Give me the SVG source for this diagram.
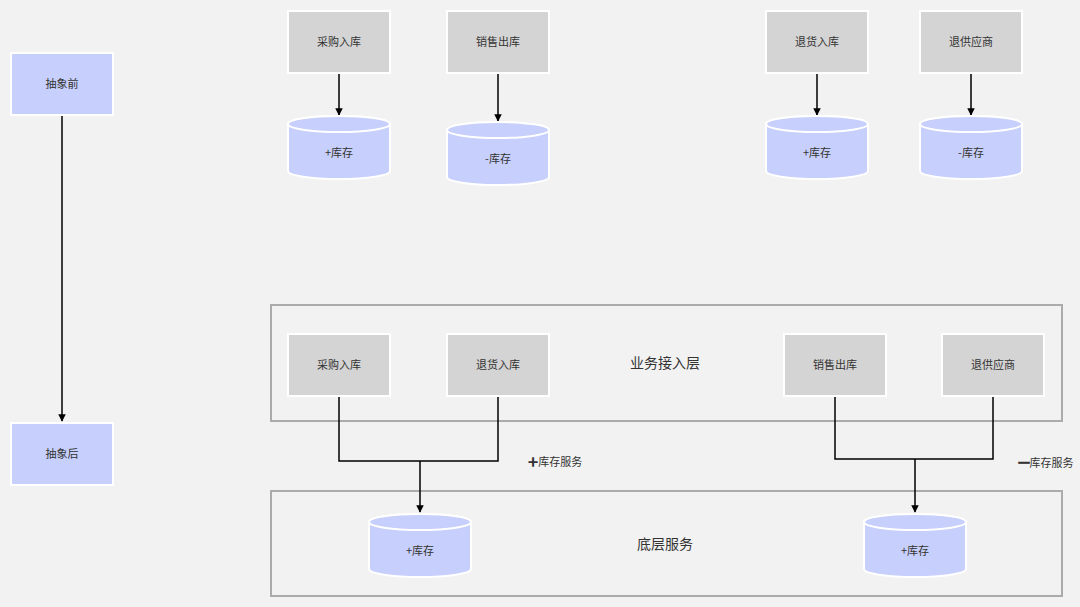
<svg xmlns="http://www.w3.org/2000/svg" width="1080" height="607" viewBox="0 0 1080 607">
<defs>
<marker id="ah" viewBox="0 0 10 10" refX="9" refY="5" markerWidth="5" markerHeight="5" orient="auto" markerUnits="strokeWidth"><path d="M0,0 L10,5 L0,10 z" fill="#000"/></marker>
<style>
.bg{fill:#f2f2f2}
.box{fill:#d4d4d4;stroke:#fff;stroke-width:2}
.blue{fill:#c7cffc;stroke:#fff;stroke-width:2}
.cont{fill:none;stroke:#ababab;stroke-width:2}
.t{font-family:"Noto Sans CJK SC","Liberation Sans",sans-serif;font-size:11px;fill:#333;text-anchor:middle;dominant-baseline:central}
.tl{font-family:"Noto Sans CJK SC","Liberation Sans",sans-serif;font-size:14px;fill:#333;text-anchor:middle;dominant-baseline:central}
.c{fill:none;stroke:#000;stroke-width:1.5}
</style>
</defs>
<rect class="bg" x="0" y="0" width="1080" height="607"/>
<g id="containers">
<rect id="layer-biz" class="cont" x="271" y="305" width="791" height="116"/>
<rect id="layer-base" class="cont" x="271" y="491" width="791" height="105"/>
<text class="tl" x="665" y="362">业务接入层</text>
<text class="tl" x="665" y="543">底层服务</text>
</g>
<g id="connectors">
<line class="c" x1="62" y1="116" x2="62" y2="421" marker-end="url(#ah)"/>
<line class="c" x1="339" y1="74" x2="339" y2="115" marker-end="url(#ah)"/>
<line class="c" x1="498" y1="74" x2="498" y2="121" marker-end="url(#ah)"/>
<line class="c" x1="817" y1="74" x2="817" y2="115" marker-end="url(#ah)"/>
<line class="c" x1="971" y1="74" x2="971" y2="115" marker-end="url(#ah)"/>
<polyline class="c" points="339,397 339,461 498,461 498,397"/>
<line class="c" x1="420" y1="461" x2="420" y2="512" marker-end="url(#ah)"/>
<polyline class="c" points="835,397 835,459 993,459 993,397"/>
<line class="c" x1="915" y1="459" x2="915" y2="512" marker-end="url(#ah)"/>
</g>
<g id="labels">
<text class="t" x="555" y="461"><tspan font-weight="bold" font-size="18">+</tspan>库存服务</text>
<text class="t" x="1046" y="462"><tspan font-weight="bold" stroke="#333" stroke-width="0.6">━</tspan>库存服务</text>
</g>
<g id="n-before"><rect class="blue" x="11" y="53" width="102" height="62"/><text class="t" x="62" y="83">抽象前</text></g>
<g id="n-after"><rect class="blue" x="11" y="423" width="102" height="62"/><text class="t" x="62" y="453">抽象后</text></g>
<g id="n-t1"><rect class="box" x="288" y="11" width="102" height="62"/><text class="t" x="339" y="41">采购入库</text></g>
<g id="n-t2"><rect class="box" x="447" y="11" width="102" height="62"/><text class="t" x="498" y="41">销售出库</text></g>
<g id="n-t3"><rect class="box" x="766" y="11" width="102" height="62"/><text class="t" x="817" y="41">退货入库</text></g>
<g id="n-t4"><rect class="box" x="920" y="11" width="102" height="62"/><text class="t" x="971" y="41">退供应商</text></g>
<g id="db-t1"><path class="blue" d="M288,124 L288,171 A51,8 0 0 0 390,171 L390,124 A51,8 0 0 0 288,124 Z"/><ellipse class="blue" cx="339" cy="124" rx="51" ry="8"/><text class="t" x="339" y="152">+库存</text></g>
<g id="db-t2"><path class="blue" d="M447,130 L447,177 A51,8 0 0 0 549,177 L549,130 A51,8 0 0 0 447,130 Z"/><ellipse class="blue" cx="498" cy="130" rx="51" ry="8"/><text class="t" x="498" y="158">-库存</text></g>
<g id="db-t3"><path class="blue" d="M766,124 L766,171 A51,8 0 0 0 868,171 L868,124 A51,8 0 0 0 766,124 Z"/><ellipse class="blue" cx="817" cy="124" rx="51" ry="8"/><text class="t" x="817" y="152">+库存</text></g>
<g id="db-t4"><path class="blue" d="M920,124 L920,171 A51,8 0 0 0 1022,171 L1022,124 A51,8 0 0 0 920,124 Z"/><ellipse class="blue" cx="971" cy="124" rx="51" ry="8"/><text class="t" x="971" y="152">-库存</text></g>
<g id="n-b1"><rect class="box" x="288" y="334" width="102" height="62"/><text class="t" x="339" y="364">采购入库</text></g>
<g id="n-b2"><rect class="box" x="447" y="334" width="102" height="62"/><text class="t" x="498" y="364">退货入库</text></g>
<g id="n-b3"><rect class="box" x="784" y="334" width="102" height="62"/><text class="t" x="835" y="364">销售出库</text></g>
<g id="n-b4"><rect class="box" x="942" y="334" width="102" height="62"/><text class="t" x="993" y="364">退供应商</text></g>
<g id="db-b1"><path class="blue" d="M369,522 L369,569 A51,8 0 0 0 471,569 L471,522 A51,8 0 0 0 369,522 Z"/><ellipse class="blue" cx="420" cy="522" rx="51" ry="8"/><text class="t" x="420" y="550">+库存</text></g>
<g id="db-b2"><path class="blue" d="M864,522 L864,569 A51,8 0 0 0 966,569 L966,522 A51,8 0 0 0 864,522 Z"/><ellipse class="blue" cx="915" cy="522" rx="51" ry="8"/><text class="t" x="915" y="550">+库存</text></g>
</svg>
